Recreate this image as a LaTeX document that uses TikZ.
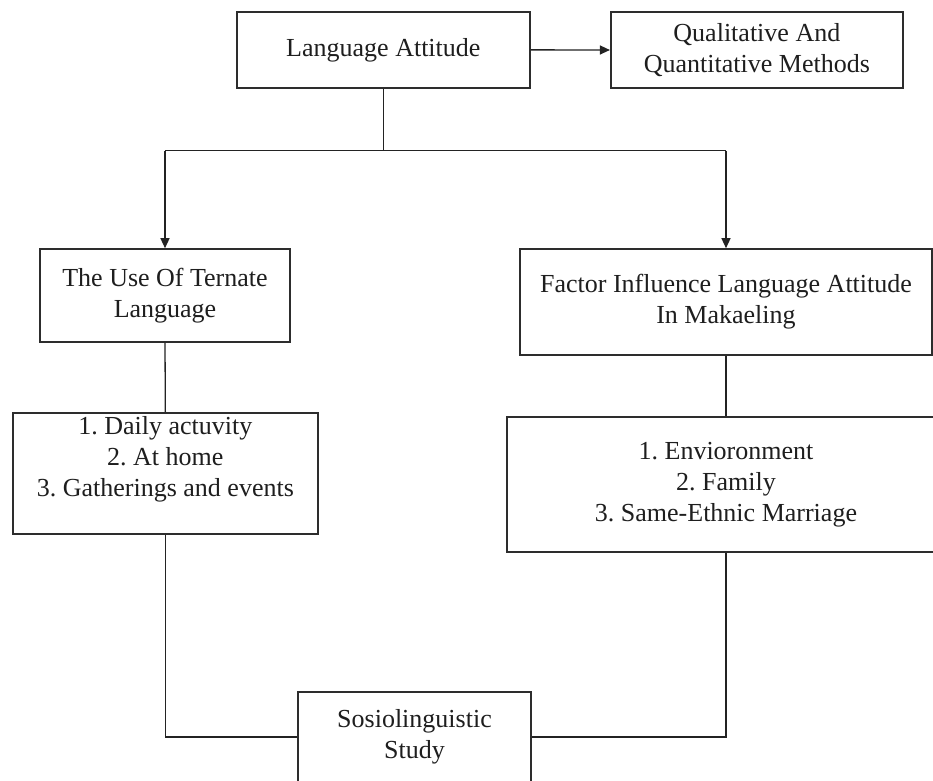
\documentclass[tikz,border=0pt]{standalone}
\usepackage{fontspec}
\setmainfont{Liberation Serif}
\usetikzlibrary{arrows.meta}
\definecolor{boxcol}{RGB}{45,45,45}
\definecolor{linecol}{RGB}{35,35,35}
\definecolor{txtcol}{RGB}{30,30,30}
\frenchspacing
\begin{document}
\begin{tikzpicture}[x=1pt,y=-1pt,
  box/.style={draw=boxcol, line width=1.6pt, fill=white, inner sep=0pt, align=center,
              text=txtcol, font=\fontsize{26}{31}\selectfont},
  conn/.style={draw=linecol, line width=1.3pt},
  arr/.style={conn, -{Triangle[length=10pt,width=9pt]}}]
\useasboundingbox (0,0) rectangle (933,780);
\clip (0,0) rectangle (933,780);
\fill[white] (0,0) rectangle (933,780);

\node[box, minimum width=293.3pt, minimum height=76.3pt] (la) at (383.35,49.85) {Language Attitude};
\node[box, minimum width=292.3pt, minimum height=76pt] (qm) at (756.85,50) {Qualitative And\\Quantitative Methods};
\node[box, minimum width=250pt, minimum height=93pt] (ut) at (165,295.5) {The Use Of Ternate\\Language};
\node[box, minimum width=412pt, minimum height=106pt] (fa) at (726,302) {Factor Influence Language Attitude\\In Makaeling};
\node[box, minimum width=305.3pt, minimum height=121pt] (l1) at (165.35,473.5)
  {\parbox[c][121pt][t]{305pt}{\centering\frenchspacing\strut 1. Daily actuvity\\2. At home\\3. Gatherings and events}};
\node[box, minimum width=438pt, minimum height=135pt] (l2) at (726,484.5) {1. Envioronment\\2. Family\\3. Same-Ethnic Marriage};
\node[box, minimum width=233pt, minimum height=90pt] (so) at (414.5,737) {Sosiolinguistic\\Study};

\coordinate (hy) at (0,150.7);
\draw[arr] (la.east) -- (qm.west);
\draw[conn] (la.south) -- (la.south |- hy);
\draw[conn] (ut.north |- hy) -- (fa.north |- hy);
\draw[arr] (ut.north |- hy) -- (ut.north);
\draw[arr] (fa.north |- hy) -- (fa.north);
\draw[conn] (ut.south) -- (l1.north);
\draw[conn] (fa.south) -- (l2.north);
\draw[conn] (l1.south) |- (so.west);
\draw[conn] (l2.south) |- (so.east);
\end{tikzpicture}
\end{document}
